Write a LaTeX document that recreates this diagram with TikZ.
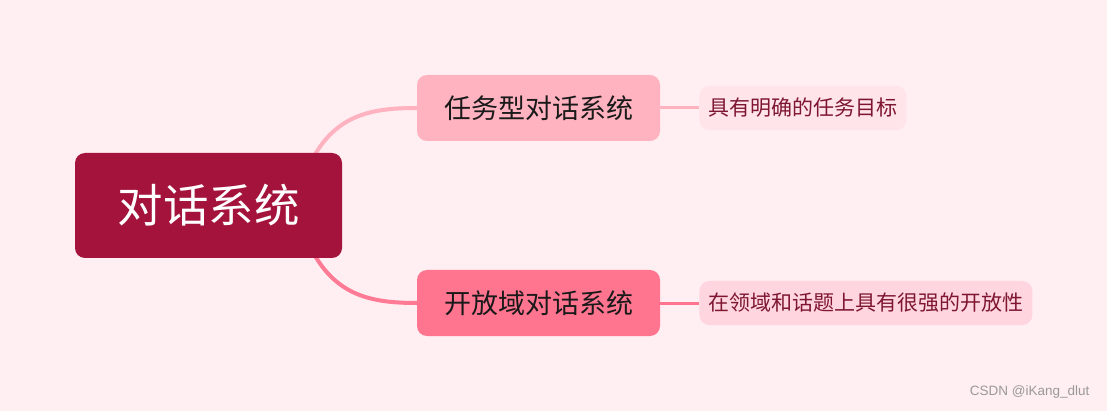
\documentclass[tikz,border=0pt]{standalone}
\usepackage{fontspec}
\setmainfont{Noto Sans CJK SC}
\newfontfamily\marcafont{Liberation Sans}
\usepackage{tikz}
\usetikzlibrary{positioning}
\definecolor{cfondo}{HTML}{FFEEF2}
\definecolor{craiz}{HTML}{A3133B}
\definecolor{cclaro}{HTML}{FFB2C0}
\definecolor{cfuerte}{HTML}{FF7590}
\definecolor{choja}{HTML}{FFE4EA}
\definecolor{choja2}{HTML}{FFD6DF}
\definecolor{ctexto}{HTML}{7E1631}
\tikzset{
  raiz/.style={rectangle, rounded corners=10pt, fill=craiz, text=white, inner sep=0pt,
               minimum width=267pt, minimum height=105pt, font=\fontsize{45.5}{45.5}\selectfont},
  rama/.style={rectangle, rounded corners=10pt, fill=#1, text=black!90, inner sep=0pt,
               minimum width=243pt, minimum height=66pt, font=\fontsize{27}{27}\selectfont},
  hoja/.style={rectangle, rounded corners=10pt, fill=#1, text=ctexto, inner xsep=9pt, inner ysep=0pt,
               minimum height=44pt, font=\fontsize{21}{21}\selectfont},
  curva/.style={line width=4pt, draw=#1},
  enlace/.style={line width=3pt, draw=#1},
}
\begin{document}
\begin{tikzpicture}[x=1pt, y=-1pt]
    \fill[cfondo] (0,0) rectangle (1107,411);
    \useasboundingbox (0,0) rectangle (1107,411);

    \node[rama=cclaro] (tarea) at (538.5,108) {任务型对话系统};
    \node[rama=cfuerte] (abierto) at (538.5,303) {开放域对话系统};
    \node[hoja=choja, anchor=west, right=39pt of tarea] (meta) {具有明确的任务目标};
    \node[hoja=choja2, anchor=west, right=39pt of abierto] (tema) {在领域和话题上具有很强的开放性};

    \coordinate (ini) at (295,205);
    \draw[curva=cclaro] (ini) .. controls (318,118) and (360,108) .. (tarea.west);
    \draw[curva=cfuerte!90!cclaro] (ini) .. controls (318,292) and (360,303) .. (abierto.west);
    \draw[enlace=cclaro] (tarea) -- (meta);
    \draw[enlace=cfuerte] (abierto) -- (tema);

    \node[raiz] (sistema) at (208.5,205.5) {对话系统};

    \node[anchor=east, text=black!40, font=\marcafont\fontsize{13.5}{13.5}\selectfont] (marca) at (1093,392) {CSDN @iKang\_dlut};
\end{tikzpicture}
\end{document}
